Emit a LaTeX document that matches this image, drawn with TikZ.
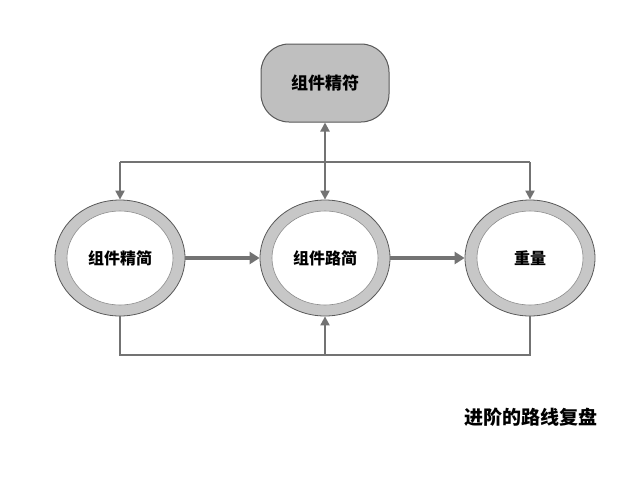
\documentclass[tikz,border=0pt]{standalone}
\usepackage{fontspec}
\newfontfamily\cjk{Noto Sans CJK SC}
\usetikzlibrary{arrows.meta,shapes.geometric}
\begin{document}
\begin{tikzpicture}[x=1pt,y=-1pt,
  ring/.style={ellipse,draw=black!65,line width=0.8pt,fill=black!22,minimum width=130pt,minimum height=116pt,inner sep=0pt},
  inner/.style={ellipse,draw=black!45,line width=0.6pt,fill=white,minimum width=106pt,minimum height=94pt,font=\cjk\bfseries\fontsize{16}{16}\selectfont},
  box/.style={draw=black!65,line width=1pt,fill=black!25,rounded corners=28pt,minimum width=128pt,minimum height=78pt,font=\cjk\bfseries\fontsize{17}{17}\selectfont},
  ln/.style={draw=black!55,line width=2pt},
  arr/.style={ln,-{Triangle[length=9pt,width=9pt]}},
  thick arr/.style={draw=black!55,line width=3.5pt,-{Triangle[length=10pt,width=12pt]}}]
\useasboundingbox (0,0) rectangle (640,480);
\fill[white] (0,0) rectangle (640,480);
\node[box] (top) at (325,83) {组件精符};
\foreach \n/\x in {a/120,b/325,c/530}{\node[ring] (\n) at (\x,258) {};}
\node[inner] (ai) at (120,258) {组件精简};
\node[inner] (bi) at (325,258) {组件路简};
\node[inner] (ci) at (530,258) {重量};
\coordinate (tl) at (120,162); \coordinate (tm) at (325,162); \coordinate (tr) at (530,162);
\coordinate (bl) at (120,355); \coordinate (bm) at (325,355); \coordinate (br) at (530,355);
\draw[ln] (tl) -- (tr);
\draw[arr] (tl) -- (a.north);
\draw[arr] (tr) -- (c.north);
\draw[arr] (tm) -- (top.south);
\draw[arr] (tm) -- (b.north);
\draw[ln] (a.south) -- (bl) -- (br) -- (c.south);
\draw[arr] (bm) -- (b.south);
\draw[thick arr] (a.east) -- (b.west);
\draw[thick arr] (b.east) -- (c.west);
\node[font=\cjk\bfseries\fontsize{19}{19}\selectfont] (cap) at (531,417) {进阶的路线复盘};
\end{tikzpicture}
\end{document}
